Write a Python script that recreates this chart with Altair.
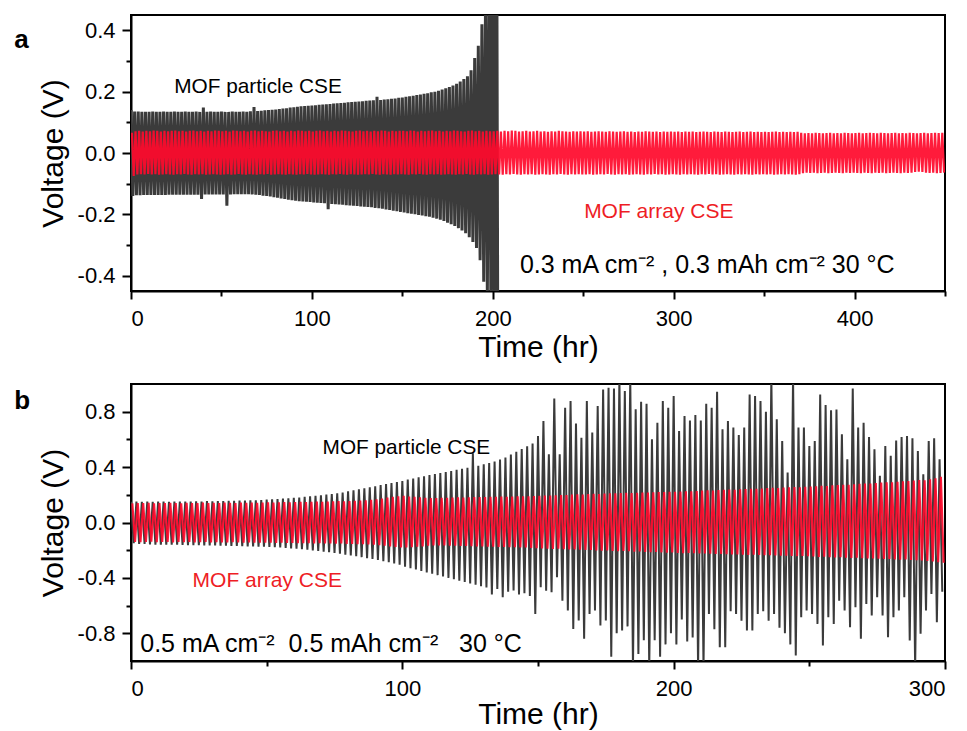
import altair as alt
import pandas as pd

FONT = "Liberation Sans, Arial, sans-serif"
BLACK = "#3b3b3b"
RED = "#ff0a2c"
RED_TXT = "#ee1d25"

# ---------------- Panel a : peak voltage of each half-cycle ----------------
# MOF particle CSE, positive peaks (t = 0, 2, 4, ... hr)
black_top_a = [
    0.140, 0.135, 0.135, 0.134, 0.134, 0.134, 0.135, 0.134, 0.134, 0.135,
    0.134, 0.134, 0.135, 0.134, 0.134, 0.135, 0.134, 0.134, 0.135, 0.134,
    0.148, 0.134, 0.135, 0.134, 0.134, 0.135, 0.134, 0.134, 0.135, 0.134,
    0.134, 0.135, 0.134, 0.136, 0.150, 0.137, 0.138, 0.139, 0.140, 0.141,
    0.142, 0.143, 0.145, 0.146, 0.148, 0.149, 0.151, 0.152, 0.153, 0.154,
    0.155, 0.156, 0.157, 0.158, 0.159, 0.160, 0.161, 0.162, 0.163, 0.164,
    0.165, 0.166, 0.167, 0.168, 0.169, 0.170, 0.171, 0.172, 0.183, 0.173,
    0.174, 0.175, 0.177, 0.178, 0.180, 0.181, 0.183, 0.185, 0.187, 0.189,
    0.191, 0.193, 0.195, 0.198, 0.200, 0.203, 0.207, 0.211, 0.215, 0.220,
    0.226, 0.233, 0.241, 0.250, 0.270, 0.310, 0.350, 0.420, 0.500, 0.650,
    0.900, 1.200]
# MOF particle CSE, negative peaks (t = 1, 3, 5, ... hr)
black_bot_a = [
    -0.140, -0.138, -0.138, -0.137, -0.137, -0.137, -0.137, -0.137, -0.137, -0.137,
    -0.136, -0.136, -0.136, -0.136, -0.136, -0.136, -0.136, -0.136, -0.136, -0.150,
    -0.135, -0.135, -0.135, -0.135, -0.135, -0.135, -0.172, -0.135, -0.134, -0.134,
    -0.134, -0.134, -0.134, -0.135, -0.136, -0.137, -0.139, -0.140, -0.142, -0.144,
    -0.146, -0.148, -0.150, -0.152, -0.154, -0.156, -0.157, -0.158, -0.159, -0.160,
    -0.161, -0.162, -0.163, -0.164, -0.183, -0.166, -0.167, -0.168, -0.169, -0.170,
    -0.171, -0.172, -0.173, -0.174, -0.175, -0.176, -0.177, -0.179, -0.180, -0.182,
    -0.184, -0.186, -0.188, -0.190, -0.192, -0.194, -0.196, -0.198, -0.200, -0.202,
    -0.204, -0.206, -0.208, -0.211, -0.214, -0.218, -0.222, -0.227, -0.232, -0.238,
    -0.245, -0.253, -0.262, -0.275, -0.290, -0.310, -0.350, -0.420, -0.460, -0.550,
    -0.900, -1.200]
# MOF array CSE, positive peaks (t = 0.5, 2.5, ... hr)
red_top_a = [
    0.066, 0.071, 0.072, 0.070, 0.072, 0.071, 0.073, 0.072, 0.070, 0.072, 0.071, 0.072, 0.073, 0.071, 0.072, 0.070, 0.072, 0.073, 0.071, 0.072, 0.070, 0.072, 0.071, 0.073, 0.072,
    0.071, 0.072, 0.070, 0.073, 0.072, 0.071, 0.072, 0.070, 0.072, 0.073, 0.071, 0.072, 0.071, 0.070, 0.072, 0.073, 0.071, 0.072, 0.070, 0.072, 0.071, 0.073, 0.072, 0.071, 0.072,
    0.070, 0.072, 0.073, 0.071, 0.072, 0.070, 0.072, 0.071, 0.073, 0.072, 0.071, 0.070, 0.072, 0.073, 0.071, 0.072, 0.070, 0.072, 0.071, 0.073, 0.072, 0.070, 0.072, 0.071, 0.072,
    0.072, 0.071, 0.073, 0.072, 0.070, 0.072, 0.071, 0.072, 0.073, 0.071, 0.072, 0.070, 0.072, 0.071, 0.073, 0.072, 0.071, 0.070, 0.072, 0.073, 0.071, 0.072, 0.070, 0.072, 0.071,
    0.071, 0.072, 0.070, 0.072, 0.071, 0.073, 0.072, 0.070, 0.071, 0.072, 0.070, 0.071, 0.072, 0.070, 0.071, 0.069, 0.071, 0.070, 0.072, 0.071, 0.070, 0.069, 0.071, 0.070, 0.071,
    0.070, 0.071, 0.069, 0.070, 0.071, 0.070, 0.069, 0.071, 0.070, 0.069, 0.070, 0.071, 0.069, 0.070, 0.068, 0.070, 0.069, 0.071, 0.070, 0.069, 0.070, 0.068, 0.070, 0.069, 0.070,
    0.069, 0.070, 0.068, 0.070, 0.069, 0.070, 0.068, 0.069, 0.070, 0.069, 0.068, 0.070, 0.069, 0.068, 0.070, 0.069, 0.068, 0.069, 0.070, 0.068, 0.069, 0.070, 0.068, 0.069, 0.068,
    0.069, 0.068, 0.069, 0.070, 0.068, 0.069, 0.068, 0.069, 0.068, 0.069, 0.066, 0.064, 0.065, 0.064, 0.066, 0.065, 0.064, 0.065, 0.066, 0.064, 0.065, 0.064, 0.066, 0.065, 0.064,
    0.065, 0.066, 0.064, 0.065, 0.066, 0.065, 0.064, 0.066, 0.065, 0.064, 0.065, 0.066, 0.064, 0.065, 0.064, 0.066, 0.065, 0.064, 0.065, 0.066, 0.064, 0.065, 0.066, 0.065, 0.066]
# MOF array CSE, negative peaks (t = 1.5, 3.5, ... hr)
red_bot_a = [
    -0.075, -0.070, -0.069, -0.070, -0.068, -0.070, -0.069, -0.071, -0.070, -0.069, -0.070, -0.071, -0.069, -0.070, -0.068, -0.070, -0.071, -0.069, -0.070, -0.069, -0.071, -0.070, -0.069, -0.070, -0.071,
    -0.070, -0.069, -0.071, -0.070, -0.068, -0.070, -0.071, -0.069, -0.070, -0.071, -0.069, -0.070, -0.068, -0.071, -0.070, -0.069, -0.070, -0.071, -0.069, -0.070, -0.071, -0.069, -0.070, -0.068, -0.070,
    -0.071, -0.070, -0.069, -0.070, -0.071, -0.069, -0.070, -0.068, -0.070, -0.071, -0.069, -0.070, -0.071, -0.070, -0.069, -0.070, -0.068, -0.070, -0.071, -0.069, -0.070, -0.071, -0.069, -0.070, -0.069,
    -0.070, -0.071, -0.069, -0.070, -0.068, -0.070, -0.071, -0.069, -0.070, -0.069, -0.071, -0.070, -0.069, -0.070, -0.071, -0.069, -0.070, -0.068, -0.070, -0.071, -0.069, -0.070, -0.069, -0.071, -0.070,
    -0.069, -0.070, -0.071, -0.069, -0.070, -0.068, -0.070, -0.071, -0.069, -0.070, -0.069, -0.071, -0.070, -0.069, -0.070, -0.071, -0.069, -0.070, -0.068, -0.070, -0.071, -0.069, -0.070, -0.069, -0.070,
    -0.070, -0.069, -0.071, -0.070, -0.069, -0.070, -0.068, -0.070, -0.071, -0.069, -0.070, -0.069, -0.071, -0.070, -0.069, -0.070, -0.071, -0.069, -0.070, -0.068, -0.070, -0.069, -0.071, -0.070, -0.069,
    -0.070, -0.071, -0.069, -0.070, -0.069, -0.070, -0.071, -0.069, -0.070, -0.068, -0.070, -0.069, -0.071, -0.070, -0.069, -0.070, -0.071, -0.069, -0.070, -0.069, -0.070, -0.071, -0.069, -0.070, -0.069,
    -0.070, -0.069, -0.071, -0.070, -0.069, -0.070, -0.069, -0.070, -0.071, -0.069, -0.066, -0.064, -0.065, -0.064, -0.066, -0.065, -0.064, -0.066, -0.065, -0.064, -0.065, -0.066, -0.064, -0.065, -0.064,
    -0.065, -0.066, -0.064, -0.065, -0.066, -0.064, -0.065, -0.064, -0.066, -0.065, -0.064, -0.065, -0.066, -0.064, -0.065, -0.064, -0.062, -0.061, -0.062, -0.064, -0.065, -0.064, -0.066, -0.065, -0.064]

# ---------------- Panel b ----------------
black_top_b = [
    0.150, 0.152, 0.150, 0.151, 0.150, 0.152, 0.151, 0.150, 0.152, 0.151,
    0.152, 0.151, 0.153, 0.152, 0.154, 0.153, 0.155, 0.154, 0.156, 0.157,
    0.158, 0.158, 0.160, 0.161, 0.162,
    0.165, 0.167, 0.170, 0.172, 0.175, 0.178, 0.181, 0.185, 0.189, 0.193,
    0.197, 0.201, 0.206, 0.211, 0.216, 0.225, 0.232, 0.240, 0.247, 0.255,
    0.262, 0.270, 0.277, 0.285, 0.292,
    0.300, 0.310, 0.318, 0.326, 0.334, 0.342, 0.350, 0.357, 0.365, 0.372,
    0.380, 0.388, 0.395, 0.500, 0.410, 0.420, 0.430, 0.440, 0.455, 0.470,
    0.490, 0.510, 0.530, 0.550, 0.570,
    0.625, 0.733, 0.493, 0.896, 0.493, 0.829, 0.877, 0.714, 0.612, 0.877,
    0.649, 0.841, 0.961, 0.973, 0.968, 1.050, 0.949, 1.050, 0.817, 0.872,
    0.858, 0.601, 0.721, 0.877, 0.829,
    0.913, 0.661, 0.769, 0.737, 0.776, 0.737, 0.858, 0.829, 0.944, 0.673,
    0.733, 0.685, 0.632, 0.685, 0.925, 0.913, 0.877, 0.800, 1.050, 0.745,
    0.589, 0.361, 1.050, 0.685, 0.685,
    0.552, 0.589, 0.925, 0.848, 0.810, 0.815, 0.637, 0.457, 0.968, 0.685,
    0.721, 0.618, 0.529, 0.337, 0.552, 0.481, 0.592, 0.618, 0.625, 0.608,
    0.517, 0.349, 0.589, 0.608, 0.457]
black_bot_b = [
    -0.150, -0.155, -0.155, -0.158, -0.160, -0.160, -0.160, -0.161, -0.160, -0.162,
    -0.163, -0.163, -0.164, -0.165, -0.165, -0.166, -0.167, -0.168, -0.169, -0.170,
    -0.171, -0.172, -0.173, -0.174, -0.175,
    -0.177, -0.179, -0.181, -0.184, -0.187, -0.190, -0.193, -0.197, -0.201, -0.205,
    -0.210, -0.215, -0.220, -0.226, -0.232, -0.238, -0.244, -0.250, -0.257, -0.264,
    -0.271, -0.279, -0.287, -0.295, -0.305,
    -0.320, -0.330, -0.340, -0.350, -0.360, -0.370, -0.380, -0.390, -0.400, -0.410,
    -0.420, -0.430, -0.440, -0.450, -0.460, -0.470, -0.520, -0.480, -0.540, -0.500,
    -0.490, -0.520, -0.510, -0.530, -0.660,
    -0.468, -0.492, -0.504, -0.396, -0.564, -0.636, -0.768, -0.708, -0.840, -0.660,
    -0.636, -0.744, -0.708, -0.970, -0.800, -0.780, -0.750, -1.050, -0.950, -0.850,
    -1.050, -0.850, -0.970, -0.880, -0.800,
    -0.880, -0.700, -0.860, -0.830, -1.050, -1.050, -0.660, -0.770, -0.900, -0.900,
    -0.640, -0.660, -0.710, -0.780, -0.780, -0.660, -0.640, -0.710, -0.660, -0.760,
    -0.800, -0.880, -0.960, -0.684, -0.636,
    -0.660, -0.732, -0.888, -0.684, -0.732, -0.564, -0.636, -0.756, -0.612, -0.840,
    -0.588, -0.672, -0.540, -0.672, -0.828, -0.684, -0.636, -0.540, -0.852, -1.050,
    -0.804, -0.636, -0.516, -0.720, -0.500]
red_top_b = [
    0.138, 0.141, 0.140, 0.142, 0.139, 0.141, 0.140, 0.142, 0.141, 0.139, 0.142, 0.140, 0.141, 0.143, 0.140, 0.142, 0.141, 0.143, 0.142, 0.140, 0.143, 0.142, 0.144, 0.142, 0.144,
    0.145, 0.144, 0.146, 0.147, 0.146, 0.148, 0.149, 0.148, 0.150, 0.151, 0.150, 0.152, 0.153, 0.154, 0.153, 0.155, 0.157, 0.158, 0.160, 0.163, 0.167, 0.172, 0.180, 0.186, 0.190,
    0.192, 0.188, 0.185, 0.182, 0.178, 0.176, 0.177, 0.178, 0.179, 0.180, 0.181, 0.180, 0.182, 0.183, 0.184, 0.183, 0.185, 0.186, 0.187, 0.186, 0.188, 0.189, 0.190, 0.189, 0.191,
    0.193, 0.195, 0.194, 0.197, 0.199, 0.198, 0.201, 0.203, 0.202, 0.205, 0.207, 0.206, 0.209, 0.211, 0.210, 0.212, 0.214, 0.213, 0.215, 0.217, 0.216, 0.218, 0.220, 0.219, 0.221,
    0.222, 0.224, 0.226, 0.225, 0.228, 0.230, 0.232, 0.231, 0.234, 0.236, 0.238, 0.237, 0.240, 0.242, 0.244, 0.243, 0.246, 0.248, 0.250, 0.249, 0.252, 0.254, 0.256, 0.255, 0.258,
    0.260, 0.262, 0.265, 0.264, 0.268, 0.270, 0.273, 0.272, 0.276, 0.279, 0.282, 0.281, 0.285, 0.288, 0.291, 0.290, 0.294, 0.297, 0.300, 0.303, 0.306, 0.305, 0.312, 0.320, 0.330]
red_bot_b = [
    -0.140, -0.142, -0.141, -0.139, -0.142, -0.140, -0.141, -0.143, -0.140, -0.142, -0.141, -0.143, -0.142, -0.140, -0.143, -0.142, -0.144, -0.143, -0.142, -0.144, -0.145, -0.143, -0.145, -0.146, -0.145,
    -0.146, -0.147, -0.146, -0.148, -0.147, -0.149, -0.150, -0.149, -0.151, -0.150, -0.152, -0.151, -0.153, -0.152, -0.154, -0.155, -0.156, -0.157, -0.159, -0.161, -0.164, -0.168, -0.173, -0.177, -0.180,
    -0.181, -0.178, -0.175, -0.172, -0.168, -0.166, -0.165, -0.166, -0.167, -0.168, -0.169, -0.170, -0.171, -0.172, -0.173, -0.174, -0.175, -0.176, -0.177, -0.178, -0.179, -0.180, -0.181, -0.183, -0.185,
    -0.187, -0.189, -0.191, -0.190, -0.193, -0.195, -0.194, -0.197, -0.199, -0.198, -0.201, -0.203, -0.202, -0.205, -0.207, -0.206, -0.208, -0.210, -0.209, -0.212, -0.214, -0.213, -0.216, -0.218, -0.217,
    -0.219, -0.221, -0.220, -0.222, -0.224, -0.223, -0.226, -0.228, -0.227, -0.229, -0.231, -0.230, -0.232, -0.234, -0.233, -0.235, -0.237, -0.236, -0.238, -0.240, -0.239, -0.241, -0.243, -0.242, -0.244,
    -0.246, -0.248, -0.247, -0.250, -0.252, -0.251, -0.254, -0.256, -0.255, -0.258, -0.260, -0.259, -0.262, -0.264, -0.263, -0.266, -0.268, -0.267, -0.270, -0.273, -0.275, -0.278, -0.282, -0.286, -0.290]

# axis ticks
a_x_major = [0, 100, 200, 300, 400]
a_x_minor = [50, 150, 250, 350, 450]
a_y_major = [-0.4, -0.2, 0.0, 0.2, 0.4]
a_y_minor = [-0.3, -0.1, 0.1, 0.3]
b_x_major = [0, 100, 200, 300]
b_x_minor = [50, 150, 250]
b_y_major = [-0.8, -0.4, 0.0, 0.4, 0.8]
b_y_minor = [-0.6, -0.2, 0.2, 0.6]

# annotations (hr, V)
a_texts = {"particle": (23.9, 0.197, "MOF particle CSE"),
           "array": (250.5, -0.213, "MOF array CSE"),
           "cond": (215.0, -0.392, "0.3 mA cm\u207b\u00b2 , 0.3 mAh cm\u207b\u00b2 30 \u00b0C"),
           "letter": (-64.6, 0.342, "a")}
b_texts = {"particle": (70.6, 0.496, "MOF particle CSE"),
           "array": (22.7, -0.469, "MOF array CSE"),
           "cond": (3.4, -0.938, "0.5 mA cm\u207b\u00b2\u00a0 0.5 mAh cm\u207b\u00b2\u00a0\u00a0 30 \u00b0C"),
           "letter": (-43.0, 0.819, "b")}

W = 814
HA, HB = 276, 277
LABEL_EXPR = "replace(format(datum.value, '.1f'), '\u2212', '-')"


def wave(tops, bots, start):
    t, v = [], []
    for i in range(len(tops)):
        t.append(start + 2 * i)
        v.append(tops[i])
        if i < len(bots):
            t.append(start + 2 * i + 1)
            v.append(bots[i])
    return pd.DataFrame({"t": t, "v": v})


def panel(black_df, red_df, texts, xdom, ydom, xmaj, xmin, ymaj, ymin, h, title_y, sw_black, sw_red):
    xs = alt.Scale(domain=xdom, nice=False, zero=False)
    ys = alt.Scale(domain=ydom, nice=False, zero=False)
    black = alt.Chart(black_df).mark_line(clip=True, color=BLACK, strokeWidth=sw_black).encode(
        x=alt.X("t:Q", scale=xs, axis=alt.Axis(
            values=xmaj, format="d", tickSize=8, labelPadding=9, title="Time (hr)",
            titleX=W / 2, titleY=title_y, titleBaseline="alphabetic", titleAlign="center")),
        y=alt.Y("v:Q", scale=ys, axis=alt.Axis(
            values=ymaj, labelExpr=LABEL_EXPR, tickSize=9, labelPadding=7, title="Voltage (V)",
            titleX=-69, titleY=h / 2, titleBaseline="alphabetic", titleAlign="center", titleAngle=270)),
    )
    red = alt.Chart(red_df).mark_line(clip=True, color=RED, strokeWidth=sw_red, opacity=0.93).encode(
        x=alt.X("t:Q", axis=None), y=alt.Y("v:Q", axis=None))
    minor = alt.Chart(pd.DataFrame({"t": [xdom[0]], "v": [0.0]})).mark_point(opacity=0).encode(
        x=alt.X("t:Q", axis=alt.Axis(values=xmin, labels=False, domain=False, tickSize=5,
                                     title=None, orient="bottom")),
        y=alt.Y("v:Q", axis=alt.Axis(values=ymin, labels=False, domain=False, tickSize=5,
                                     title=None, orient="left")))
    layers = [black, red, minor]
    specs = [("particle", "black", 20.8, "normal"), ("array", RED_TXT, 21, "normal"),
             ("cond", "black", 25, "normal"), ("letter", "black", 26, "bold")]
    for key, col, fs, fw in specs:
        x, y, s = texts[key]
        d = pd.DataFrame({"t": [x], "v": [y], "label": [s]})
        layers.append(alt.Chart(d).mark_text(align="left", baseline="alphabetic", font=FONT,
                                             fontSize=fs, fontWeight=fw, color=col).encode(
            x=alt.X("t:Q", axis=None), y=alt.Y("v:Q", axis=None), text="label:N"))
    return alt.layer(*layers).resolve_axis(x="independent", y="independent").properties(
        width=W, height=h)


chart_a = panel(wave(black_top_a, black_bot_a, 0), wave(red_top_a, red_bot_a, 0.5), a_texts,
                [0, 450], [-0.45, 0.45], a_x_major, a_x_minor, a_y_major, a_y_minor, HA, 65,
                3.0, 2.2)
chart_b = panel(wave(black_top_b, black_bot_b, 0), wave(red_top_b, red_bot_b, 0.5), b_texts,
                [0, 300], [-1.0, 1.0], b_x_major, b_x_minor, b_y_major, b_y_minor, HB, 62,
                2.0, 2.1)

chart = alt.vconcat(chart_a, chart_b, spacing=20).properties(
    padding={"left": 5, "top": 6, "right": 12, "bottom": 5}
).configure_view(stroke="black", strokeWidth=2).configure_axis(
    grid=False, domainColor="black", domainWidth=2, tickColor="black", tickWidth=2,
    labelFont=FONT, labelFontSize=22, labelColor="black",
    titleFont=FONT, titleFontSize=30, titleFontWeight="normal", titleColor="black")

chart.save("out.html", embed_options={"renderer": "svg", "actions": False})
